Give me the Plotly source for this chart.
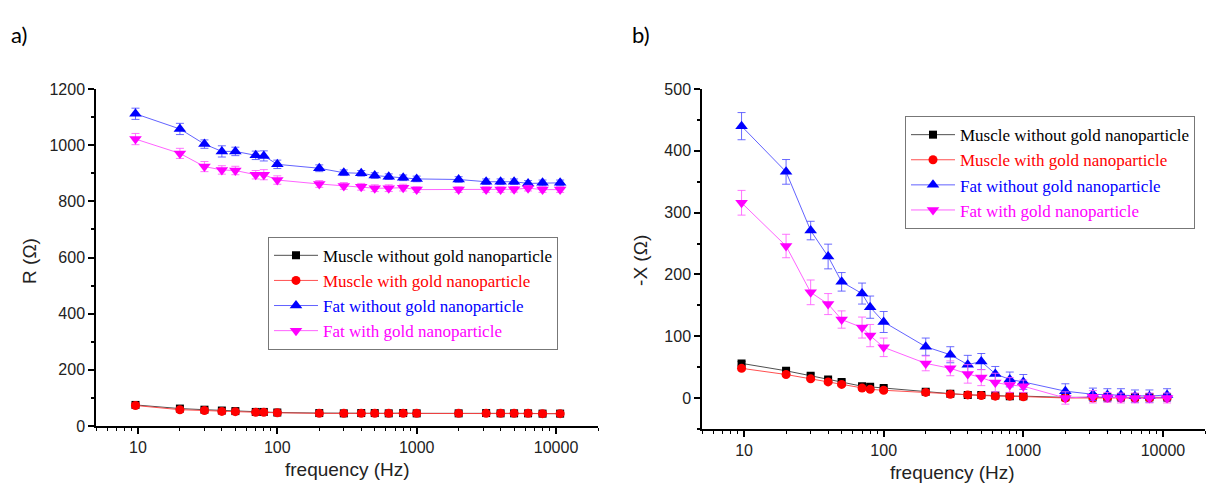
import plotly.graph_objects as go
import math

freq = [9.6, 20, 30, 40, 50, 70, 80, 100, 200, 300, 400, 500, 630, 800, 1000,
        2000, 3150, 4000, 5000, 6300, 8000, 10700]

# Panel a: R (Ohm)
R_muscle_wo = [75, 62, 58, 55, 53, 50, 50, 48, 46, 45, 46, 46, 45, 46, 45, 45, 46, 45, 45, 45, 44, 44]
R_muscle_w = [73, 58, 55, 52, 51, 49, 49, 47, 45, 45, 45, 45, 45, 45, 45, 45, 45, 45, 45, 45, 44, 44]
R_fat_wo = [1112, 1058, 1004, 978, 978, 964, 962, 932, 918, 902, 900, 892, 888, 884, 880,
            878, 870, 870, 870, 864, 866, 866]
R_fat_w = [1022, 971, 924, 912, 910, 895, 895, 876, 862, 855, 852, 847, 847, 849, 842,
           842, 842, 842, 843, 847, 842, 842]
R_muscle_wo_err = [4, 3, 3, 3, 3, 3, 3, 3, 3, 3, 3, 3, 3, 3, 3, 3, 3, 3, 3, 3, 3, 3]
R_muscle_w_err = [4, 3, 3, 3, 3, 3, 3, 3, 3, 3, 3, 3, 3, 3, 3, 3, 3, 3, 3, 3, 3, 3]
R_fat_wo_err = [20, 20, 15, 20, 15, 15, 18, 15, 12, 10, 10, 10, 10, 10, 10, 10, 10, 10, 10, 10, 10, 10]
R_fat_w_err = [20, 18, 18, 15, 15, 15, 18, 15, 12, 12, 12, 12, 12, 12, 10, 10, 10, 10, 10, 10, 10, 10]

# Panel b: -X (Ohm)
X_muscle_wo = [56, 44, 36, 30, 26, 19, 18, 16, 10, 7, 5, 5, 4, 3, 3, 1, 1, 1, 1, 1, 1, 1]
X_muscle_w = [48, 38, 31, 26, 22, 16, 14, 12.5, 9, 6, 5, 4, 3, 3, 2, 0, 0, 0, 0, 0, 0, 0]
X_fat_wo = [440, 366, 271, 229, 188, 169, 147, 123, 83, 70, 54, 59, 39, 30, 26, 11, 6, 5, 5, 3, 3, 5]
X_fat_w = [316, 246, 171, 152, 127, 114, 101, 82, 56, 48, 39, 33, 25, 21, 19, 0, 2, 1, 0, 0, 0, 0]
X_muscle_wo_err = [3, 3, 3, 3, 3, 3, 3, 3, 3, 3, 3, 3, 3, 3, 3, 3, 3, 3, 3, 3, 3, 3]
X_muscle_w_err = [3, 3, 3, 3, 3, 3, 3, 3, 3, 3, 3, 3, 3, 3, 3, 3, 3, 3, 3, 3, 3, 3]
X_fat_wo_err = [22, 20, 15, 20, 15, 17, 18, 17, 14, 13, 15, 13, 12, 12, 12, 12, 10, 10, 10, 10, 10, 10]
X_fat_w_err = [20, 19, 20, 17, 14, 17, 18, 15, 12, 12, 15, 13, 15, 12, 10, 10, 10, 8, 8, 8, 8, 8]

names = ["Muscle without gold nanoparticle", "Muscle with gold nanoparticle",
         "Fat without gold nanoparticle", "Fat with gold nanoparticle"]

W, H = 1222, 490
def fx(px):
    return px / W
def fy(py):
    return 1 - py / H

styles = [
    dict(mc="#000000", lc="rgba(60,60,60,0.9)", ec="rgba(60,60,60,0.8)", sym="square", size=8, tc="#000000"),
    dict(mc="#ff0000", lc="rgba(255,60,60,0.9)", ec="rgba(255,60,60,0.8)", sym="circle", size=9, tc="#ff0000"),
    dict(mc="#0000ff", lc="rgba(90,90,255,0.95)", ec="rgba(80,80,255,0.85)", sym="triangle-up", size=11, tc="#0000ff"),
    dict(mc="#ff00ff", lc="rgba(255,90,255,0.95)", ec="rgba(255,90,255,0.85)", sym="triangle-down", size=11, tc="#ff00ff"),
]

fig = go.Figure()

def add_panel(ys, errs, xaxis, yaxis, legend):
    for i, (y, e) in enumerate(zip(ys, errs)):
        s = styles[i]
        fig.add_trace(go.Scatter(
            x=freq, y=y, mode="lines+markers",
            name=f"<span style='color:{s['tc']}'>{names[i]}</span>",
            line=dict(color=s["lc"], width=1),
            marker=dict(color=s["mc"], symbol=s["sym"], size=s["size"], line=dict(width=0)),
            error_y=dict(type="data", array=e, visible=True, color=s["ec"], thickness=1, width=4),
            xaxis=xaxis, yaxis=yaxis, legend=legend,
        ))

add_panel([R_muscle_wo, R_muscle_w, R_fat_wo, R_fat_w],
          [R_muscle_wo_err, R_muscle_w_err, R_fat_wo_err, R_fat_w_err], "x", "y", "legend")
add_panel([X_muscle_wo, X_muscle_w, X_fat_wo, X_fat_w],
          [X_muscle_wo_err, X_muscle_w_err, X_fat_wo_err, X_fat_w_err], "x2", "y2", "legend2")

tickfont = dict(family="Liberation Sans", size=16, color="#222")
xcommon = dict(type="log", range=[math.log10(5), math.log10(20000)], dtick=1, tick0=0,
               tickformat="d",
               showline=True, linecolor="black", linewidth=1.5, ticks="outside", ticklen=6,
               tickwidth=1.5, tickcolor="black", showgrid=False, zeroline=False, tickfont=tickfont,
               minor=dict(ticks="outside", ticklen=3, tickcolor="black", tickwidth=1, dtick="D1", showgrid=False))
ycommon = dict(showline=True, linecolor="black", linewidth=1.5, ticks="outside", ticklen=6,
               tickwidth=1.5, tickcolor="black", showgrid=False, zeroline=False, tickfont=tickfont)

leg_font = dict(family="Liberation Serif", size=17, color="black")
fig.update_layout(
    width=W, height=H, margin=dict(l=0, r=0, t=0, b=0),
    plot_bgcolor="white", paper_bgcolor="white",
    xaxis=dict(domain=[fx(96), fx(598)], anchor="y", **xcommon),
    yaxis=dict(domain=[fy(433), fy(84)], anchor="x", range=[0, 1200], dtick=200, tick0=0,
               minor=dict(ticks="outside", ticklen=3, tickcolor="black", dtick=100, showgrid=False), **ycommon),
    xaxis2=dict(domain=[fx(702), fx(1205)], anchor="y2", **xcommon),
    yaxis2=dict(domain=[fy(436), fy(84)], anchor="x2", range=[-50, 500], dtick=100, tick0=0,
                minor=dict(ticks="outside", ticklen=3, tickcolor="black", dtick=50, showgrid=False), **ycommon),
    legend=dict(x=fx(268), y=fy(237), xanchor="left", yanchor="top", bordercolor="#777", borderwidth=1,
                bgcolor="white", font=leg_font, itemwidth=44, tracegroupgap=0),
    legend2=dict(x=fx(905), y=fy(112), xanchor="left", yanchor="top", bordercolor="#777", borderwidth=1,
                 bgcolor="white", font=leg_font, itemwidth=44, tracegroupgap=0),
    showlegend=True,
)

title_font = dict(family="Liberation Sans", size=19, color="#222")
ann = [
    dict(text="a)", x=fx(19), y=fy(27), font=dict(family="Lato", size=22, color="black")),
    dict(text="b)", x=fx(641), y=fy(27), font=dict(family="Lato", size=22, color="black")),
    dict(text="R (Ω)", x=fx(30), y=fy(262), textangle=-90, font=title_font),
    dict(text="-X (Ω)", x=fx(641), y=fy(262), textangle=-90, font=title_font),
    dict(text="frequency (Hz)", x=fx(347), y=fy(478), font=title_font),
    dict(text="frequency (Hz)", x=fx(952), y=fy(481), font=title_font),
]
for a in ann:
    fig.add_annotation(xref="paper", yref="paper", showarrow=False, xanchor="center", yanchor="middle", **a)

fig.write_html("out.html")
